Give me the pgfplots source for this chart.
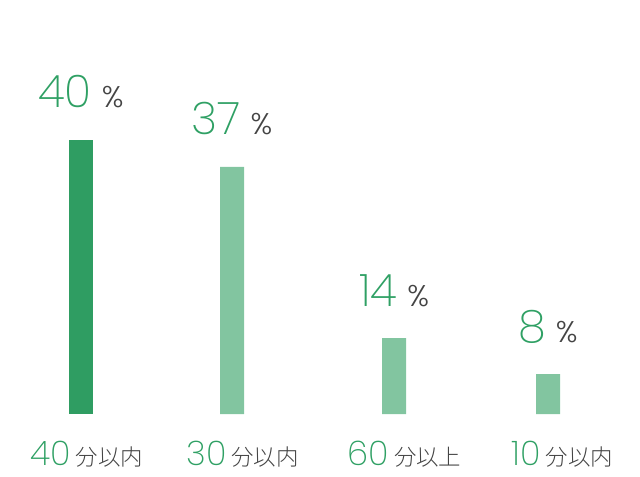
\documentclass[border=0pt]{standalone}
\usepackage{pgfplots}
\pgfplotsset{compat=1.18}
\usepackage{pgfplotstable}
\usepackage{fontspec}
\setmainfont{Poppins}
\newfontfamily\numfont{Poppins ExtraLight}
\newfontfamily\pctfont{Poppins Light}
\newfontfamily\cjk{Noto Sans CJK JP Light}

\definecolor{darkbar}{HTML}{2F9D62}
\definecolor{lightbar}{HTML}{82C5A0}
\definecolor{numgreen}{HTML}{2FA064}
\definecolor{txtgray}{HTML}{444444}

% x = bar centre (px), h = drawn bar height (px), v = printed share
\pgfplotstableread{
x h v
81 274 40
}\firstbar
\pgfplotstableread{
x h v
232 247 37
394 76 14
548 40 8
}\otherbars

\newcommand{\toplabel}[1]{{\fontsize{45}{45}\selectfont\numfont\color{numgreen}#1}\hspace{10bp}{\fontsize{30}{30}\selectfont\pctfont\color{txtgray}\%}}
\newcommand{\botlabel}[2]{{\fontsize{34}{34}\selectfont\numfont\color{numgreen}#1}\hspace{5bp}{\fontsize{22.5}{22.5}\selectfont\cjk\color{txtgray}#2}}

\begin{document}
\begin{tikzpicture}
\begin{axis}[
    name=ax,
    width=640bp, height=476bp, scale only axis,
    xmin=0, xmax=640, ymin=-62, ymax=414,
    hide axis, clip=false,
    ybar, bar width=24bp, bar shift=0pt,
    point meta=explicit symbolic,
    nodes near coords={\toplabel{\pgfplotspointmeta}},
    every node near coord/.style={anchor=base, yshift=32bp, inner sep=0pt},
]
\addplot[fill=darkbar, draw=none] table[x=x, y=h, meta=v] {\firstbar};
\addplot[fill=lightbar, draw=none] table[x=x, y=h, meta=v] {\otherbars};

\node[anchor=base, inner sep=0pt] at (axis cs:86.5,-51) {\botlabel{40}{分以内}};
\node[anchor=base, inner sep=0pt] at (axis cs:242.5,-51) {\botlabel{30}{分以内}};
\node[anchor=base, inner sep=0pt] at (axis cs:404.5,-51) {\botlabel{60}{分以上}};
\node[anchor=base, inner sep=0pt] at (axis cs:562.5,-51) {\botlabel{10}{分以内}};
\end{axis}
\pgfresetboundingbox
\path (ax.south west) rectangle (ax.north east);
\end{tikzpicture}
\end{document}
